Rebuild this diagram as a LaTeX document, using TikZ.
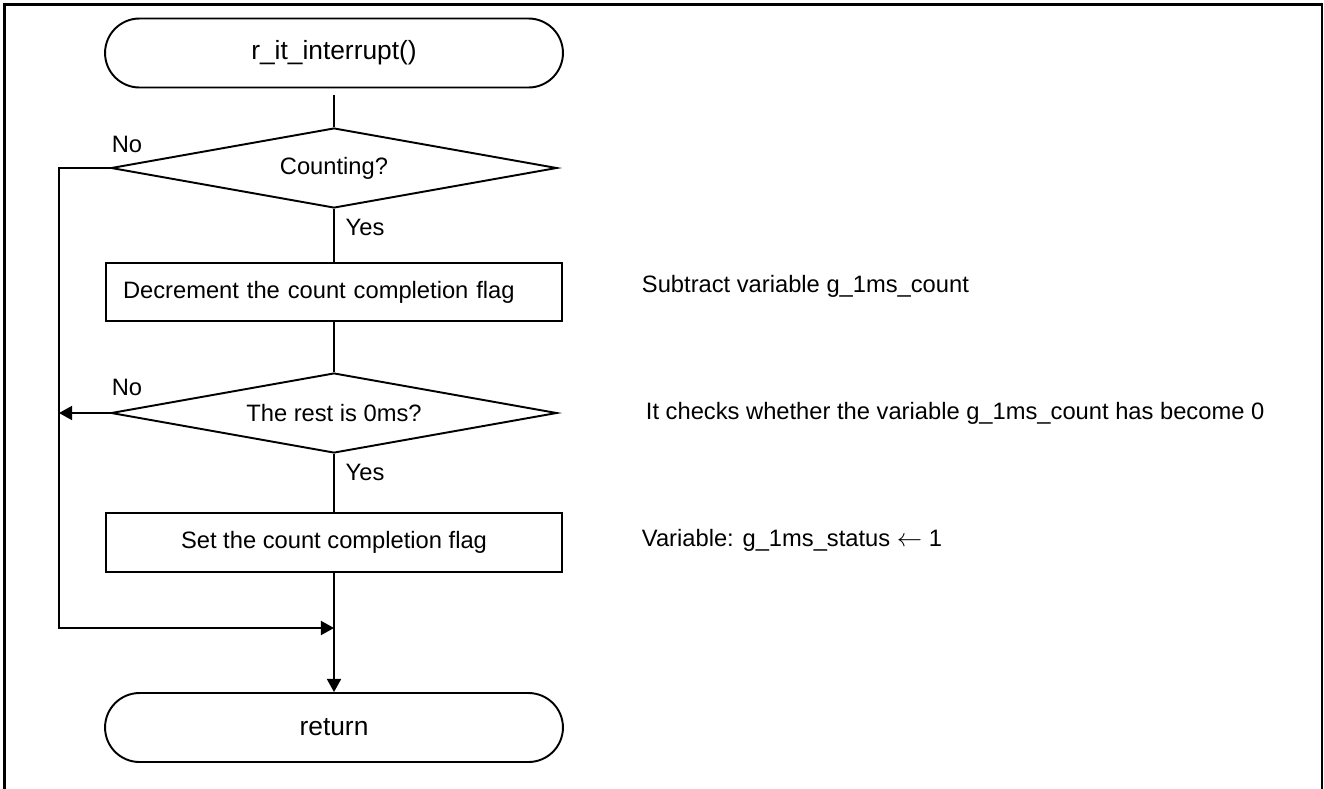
\documentclass[tikz,border=0pt]{standalone}
\usepackage{fontspec}
\setmainfont{Liberation Sans}
\usetikzlibrary{shapes.geometric,shapes.misc,arrows.meta}

\begin{document}
\begin{tikzpicture}[x=0.02cm,y=-0.02cm,line width=1.1pt,
  every node/.style={font=\fontsize{13.5}{16}\selectfont},
  terminal/.style={draw,rounded rectangle,minimum width=9.16cm,minimum height=1.38cm,inner sep=0pt,font=\fontsize{15}{18}\selectfont},
  process/.style={draw,rectangle,minimum width=9.14cm,minimum height=1.17cm,inner sep=0pt},
  decision/.style={draw,diamond,aspect=5.575,minimum width=8.92cm,minimum height=1.6cm,inner sep=0pt},
  note/.style={anchor=west,inner sep=0pt},
  flow/.style={-{Triangle[length=7.5pt,width=8pt]}}]
\def\midx{334}
\def\railx{59}

\useasboundingbox (0,0) rectangle (1324,788);
\draw[line width=1.6pt] (4.5,800) -- (4.5,4.5) -- (1322,4.5) -- (1322,800);

\node[terminal] (start) at (\midx,53) {r\_it\_interrupt()};
\node[decision] (count) at (\midx,168) {Counting?};
\node[process,text width=8.44cm,align=left,inner xsep=0.35cm] (decr) at (\midx,292) {Decrement the count completion flag};
\node[decision] (rest) at (\midx,413) {The rest is 0ms?};
\node[process] (setflag) at (\midx,542.5) {Set the count completion flag};
\node[terminal] (ret) at (\midx,727.5) {return};

\coordinate (join) at (\midx,628);
\coordinate (rail) at (\railx,628);

\node (no1) at (127,144) {No};
\node (yes1) at (365,227) {Yes};
\node (no2) at (127,387) {No};
\node (yes2) at (365,472) {Yes};

\draw ([yshift=-0.14cm]start.south) -- (count.north);
\draw (count.south) -- (decr.north);
\draw (decr.south) -- (rest.north);
\draw (rest.south) -- (setflag.north);
\draw[flow] (setflag.south) -- (ret.north);
\draw[flow] (count.west) -| (rail) -- (join);
\draw[flow] (rest.west) -- (rest.west -| rail);

\node[note] (subnote) at (641,286) {Subtract variable g\_1ms\_count};
\node[note] (chknote) at (645,413) {It checks whether the variable g\_1ms\_count has become 0};
\node[note] (setnote) at (641,540) {Variable: g\_1ms\_status $\leftarrow$ 1};
\end{tikzpicture}
\end{document}
